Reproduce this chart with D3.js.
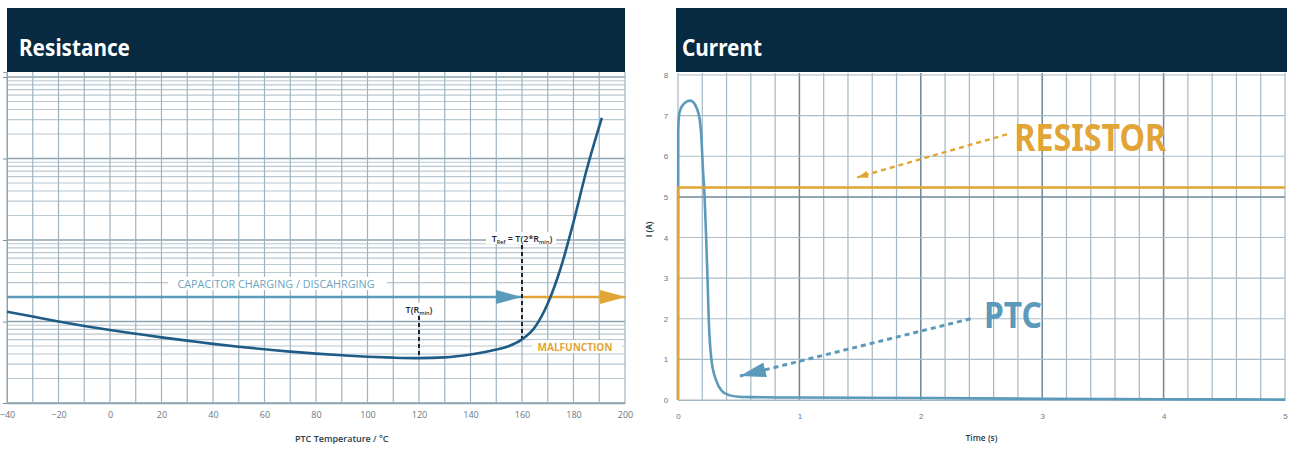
<!DOCTYPE html>
<html><head><meta charset="utf-8">
<script src="https://cdn.jsdelivr.net/npm/d3@7"></script>
<style>body{margin:0;background:#fff;} svg{display:block;font-family:"Open Sans",sans-serif;}</style>
</head><body><svg id="c" width="1292" height="450"></svg>
<script>
// ---------- data ----------
const tempTicks = [-40,-20,0,20,40,60,80,100,120,140,160,180,200];
const ptcTemp = [-40,-30,-20,-10,0,10,20,30,40,50,60,70,80,90,100,110,120,130,140,150,155,160,165,170,175,180,185,191];
const ptcResistance = [13.2,11.5,10,8.8,7.85,7.08,6.38,5.82,5.31,4.9,4.57,4.27,4.03,3.85,3.7,3.6,3.55,3.63,3.94,4.52,5.01,6.03,8.5,16.6,45,166,708,3160];
const timeTicks = [0,1,2,3,4,5];
const currentTicks = [0,1,2,3,4,5,6,7,8];
const ptcTime = [0,0.002,0.008,0.02,0.045,0.075,0.1,0.125,0.152,0.179,0.192,0.205,0.219,0.232,0.243,0.253,0.275,0.312,0.365,0.42,0.5,0.6,1,2,3,4,5];
const ptcCurrent = [0,6.6,7.0,7.15,7.28,7.35,7.37,7.33,7.2,6.9,6.5,5.7,5.0,4.0,3.0,2.0,1.0,0.5,0.21,0.12,0.08,0.07,0.06,0.05,0.03,0.02,0.01];
const resistorTime = [0,0,5];
const resistorCurrent = [0,5.23,5.23];
const tRmin = 120, tRef = 160, arrowR = 20;

// ---------- styles ----------
const NAVY = "#072a40", BLUE = "#5b9aba", DARKBLUE = "#1e5b86", ORANGE = "#e2a535";
const GRID = "#a9bcc8", GRIDDARK = "#6f8797";

const svg = d3.select("#c");
const defs = svg.append("defs");
function marker(id, color, w, h) {
  defs.append("marker").attr("id", id).attr("viewBox", `0 0 ${w} ${h}`)
    .attr("refX", w).attr("refY", h/2).attr("markerWidth", w).attr("markerHeight", h)
    .attr("markerUnits", "userSpaceOnUse").attr("orient", "auto")
    .append("path").attr("d", `M0,0L${w},${h/2}L0,${h}Z`).attr("fill", color);
}
marker("arBlue", BLUE, 26, 14);
marker("arOrange", ORANGE, 26, 14);
marker("arOrSmall", ORANGE, 11, 7);
marker("arBlueBig", BLUE, 26, 15);

// =============== LEFT: Resistance ===============
const L = {x0: 7, x1: 625, y0: 72, y1: 403};
const xT = d3.scaleLinear().domain([-40, 200]).range([L.x0, L.x1]);
const yR = d3.scaleLog().domain([1, Math.pow(10, (L.y1 - L.y0) / 81.5)]).range([L.y1, L.y0]);
const gL = svg.append("g");

const logLines = [];
for (let d = 0; d <= 4; d++) for (let k = 1; k <= 9; k++) {
  const v = k * Math.pow(10, d);
  if (v <= yR.domain()[1]) logLines.push({v, major: k === 1});
}
gL.append("g").selectAll("line").data(logLines).join("line")
  .attr("x1", L.x0).attr("x2", L.x1)
  .attr("y1", d => yR(d.v)).attr("y2", d => yR(d.v))
  .attr("stroke", d => d.major ? "#8ea3b1" : "#b9c8d1").attr("stroke-width", d => d.major ? 1.3 : 1.1);
gL.append("g").selectAll("line").data(d3.range(-40, 201, 10)).join("line")
  .attr("x1", d => xT(d)).attr("x2", d => xT(d)).attr("y1", L.y0).attr("y2", L.y1)
  .attr("stroke", "#9fb3c0").attr("stroke-width", 1.2);

const axL = gL.append("g").attr("transform", `translate(${L.x0},0)`)
  .call(d3.axisLeft(yR).tickValues([1,10,100,1000,10000]).tickSize(4).tickFormat(""));
axL.select(".domain").attr("stroke", "#8ea3b1");
axL.selectAll(".tick line").attr("stroke", "#7c909d");
const axB = gL.append("g").attr("transform", `translate(0,${L.y1})`)
  .call(d3.axisBottom(xT).tickValues(tempTicks).tickSize(0).tickPadding(9).tickFormat(d3.format("d")));
axB.select(".domain").attr("stroke", "#8ea3b1").attr("stroke-width", 1.3);
axB.selectAll("text").attr("font-size", 9).attr("fill", "#6a7680").attr("font-family", "Open Sans");
gL.append("text").attr("x", xT(90)).attr("y", 442).attr("text-anchor", "middle")
  .attr("font-size", 9).attr("font-weight", 600).attr("fill", "#2c3e4c").text("PTC Temperature / °C");

function label(g, x, y, opts) {
  const t = g.append("text").attr("x", x).attr("y", y).attr("text-anchor", opts.anchor || "middle")
    .attr("font-size", opts.size).attr("font-weight", opts.weight || 600).attr("fill", opts.color);
  if (opts.len) t.attr("textLength", opts.len).attr("lengthAdjust", "spacingAndGlyphs");
  return t;
}
gL.append("rect").attr("x", 168).attr("y", 277).attr("width", 219).attr("height", 13).attr("fill", "#fff");
label(gL, 276, 288, {size: 11, color: "#6aa3c0", weight: 500, len: 197}).text("CAPACITOR CHARGING / DISCAHRGING");
gL.append("rect").attr("x", 532).attr("y", 340).attr("width", 90).attr("height", 13).attr("fill", "#fff");
label(gL, 575, 351, {size: 11, color: ORANGE, weight: 700, len: 75}).text("MALFUNCTION");

gL.append("line").attr("x1", L.x0).attr("x2", xT(tRef)).attr("y1", yR(arrowR)).attr("y2", yR(arrowR))
  .attr("stroke", BLUE).attr("stroke-width", 2.5).attr("marker-end", "url(#arBlue)");
gL.append("line").attr("x1", xT(tRef)).attr("x2", L.x1 + 1).attr("y1", yR(arrowR)).attr("y2", yR(arrowR))
  .attr("stroke", ORANGE).attr("stroke-width", 2.5).attr("marker-end", "url(#arOrange)");

const rAt = t => ptcResistance[ptcTemp.indexOf(t)];
gL.append("line").attr("x1", xT(tRmin)).attr("x2", xT(tRmin)).attr("y1", 316).attr("y2", yR(rAt(tRmin)))
  .attr("stroke", "#1b2630").attr("stroke-width", 2).attr("stroke-dasharray", "4,3");
gL.append("line").attr("x1", xT(tRef)).attr("x2", xT(tRef)).attr("y1", 245).attr("y2", yR(rAt(tRef)))
  .attr("stroke", "#1b2630").attr("stroke-width", 2).attr("stroke-dasharray", "4,3");
gL.append("rect").attr("x", 486).attr("y", 232).attr("width", 70).attr("height", 12).attr("fill", "#fff");
const tref = gL.append("text").attr("x", xT(tRef)).attr("y", 242).attr("text-anchor", "middle")
  .attr("font-size", 9).attr("font-weight", 600).attr("fill", "#1b2630");
tref.append("tspan").text("T");
tref.append("tspan").attr("font-size", 5.5).attr("dy", 1.5).text("Ref");
tref.append("tspan").attr("dy", -1.5).text(" = T(2*R");
tref.append("tspan").attr("font-size", 5.5).attr("dy", 1.5).text("min");
tref.append("tspan").attr("dy", -1.5).text(")");
gL.append("rect").attr("x", 403).attr("y", 303).attr("width", 33).attr("height", 12).attr("fill", "#fff");
const trm = gL.append("text").attr("x", xT(tRmin)).attr("y", 313).attr("text-anchor", "middle")
  .attr("font-size", 9).attr("font-weight", 600).attr("fill", "#1b2630");
trm.append("tspan").text("T(R");
trm.append("tspan").attr("font-size", 5.5).attr("dy", 1.5).text("min");
trm.append("tspan").attr("dy", -1.5).text(")");

const rLine = d3.line().x(d => xT(d[0])).y(d => yR(d[1])).curve(d3.curveMonotoneX);
gL.append("path").datum(ptcTemp.map((t, i) => [t, ptcResistance[i]]))
  .attr("d", rLine).attr("fill", "none").attr("stroke", DARKBLUE).attr("stroke-width", 2.6);

gL.append("rect").attr("x", 7).attr("y", 8).attr("width", 618).attr("height", 64).attr("fill", NAVY);
gL.append("text").attr("x", 19).attr("y", 56).attr("font-family", "Noto Sans").attr("font-weight", 700)
  .attr("font-size", 23).attr("fill", "#fff").attr("textLength", 111).attr("lengthAdjust", "spacingAndGlyphs")
  .text("Resistance");

// =============== RIGHT: Current ===============
const R = {x0: 678, x1: 1285, y0: 75, y1: 400};
const xt = d3.scaleLinear().domain([0, 5]).range([R.x0, R.x1]);
const yI = d3.scaleLinear().domain([0, 8]).range([R.y1, R.y0]);
const gR = svg.append("g");

gR.append("g").selectAll("line").data(d3.range(0, 26).map(i => i / 5)).join("line")
  .attr("x1", d => xt(d)).attr("x2", d => xt(d)).attr("y1", R.y0 - 2).attr("y2", R.y1)
  .attr("stroke", d => (Number.isInteger(d) && d > 0 && d < 5) ? GRIDDARK : "#a4b7c3")
  .attr("stroke-width", d => (Number.isInteger(d) && d > 0 && d < 5) ? 1.5 : 1.2);
gR.append("g").selectAll("line").data(currentTicks).join("line")
  .attr("x1", R.x0).attr("x2", R.x1).attr("y1", d => yI(d)).attr("y2", d => yI(d))
  .attr("stroke", d => d === 5 ? GRIDDARK : GRID).attr("stroke-width", d => d === 5 ? 1.5 : 1.2);

const ayR = gR.append("g").attr("transform", `translate(${R.x0 - 12},0)`)
  .call(d3.axisLeft(yI).tickValues(currentTicks).tickSize(0).tickPadding(0).tickFormat(d3.format("d")));
ayR.select(".domain").remove();
ayR.selectAll("text").attr("font-size", 8).attr("fill", "#6a7680").attr("text-anchor", "middle");
const axR = gR.append("g").attr("transform", `translate(0,${R.y1})`)
  .call(d3.axisBottom(xt).tickValues(timeTicks).tickSize(0).tickPadding(13).tickFormat(d3.format("d")));
axR.select(".domain").attr("stroke", "#a4b7c3");
axR.selectAll("text").attr("font-size", 8).attr("fill", "#6a7680");
gR.append("text").attr("x", xt(2.5)).attr("y", 441).attr("text-anchor", "middle")
  .attr("font-size", 8.5).attr("font-weight", 600).attr("fill", "#2c3e4c").text("Time (s)");
gR.append("text").attr("transform", `translate(652,${yI(4.2)}) rotate(-90)`).attr("text-anchor", "middle")
  .attr("font-size", 8).attr("font-weight", 700).attr("fill", "#2c3e4c").text("I (A)");

const iLine = d3.line().x(d => xt(d[0])).y(d => yI(d[1]));
gR.append("path").datum(ptcTime.map((t, i) => [t, ptcCurrent[i]]))
  .attr("d", iLine.curve(d3.curveMonotoneX)).attr("fill", "none").attr("stroke", BLUE).attr("stroke-width", 2.6);
gR.append("path").datum(resistorTime.map((t, i) => [t, resistorCurrent[i]]))
  .attr("d", d3.line().x(d => xt(d[0])).y(d => yI(d[1]))).attr("fill", "none").attr("stroke", ORANGE).attr("stroke-width", 2.4);

gR.append("line").attr("x1", xt(2.71)).attr("y1", yI(6.54)).attr("x2", xt(1.476)).attr("y2", yI(5.48))
  .attr("stroke", ORANGE).attr("stroke-width", 2.4).attr("stroke-dasharray", "5,4").attr("marker-end", "url(#arOrSmall)");
gR.append("text").attr("x", xt(2.77)).attr("y", yI(6.12)).attr("font-family", "Noto Sans").attr("font-weight", 700)
  .attr("font-size", 37).attr("fill", ORANGE).attr("textLength", 152).attr("lengthAdjust", "spacingAndGlyphs").text("RESISTOR");
gR.append("line").attr("x1", xt(2.41)).attr("y1", yI(2.0)).attr("x2", xt(0.51)).attr("y2", yI(0.59))
  .attr("stroke", BLUE).attr("stroke-width", 3).attr("stroke-dasharray", "5,4").attr("marker-end", "url(#arBlueBig)");
gR.append("text").attr("x", xt(2.52)).attr("y", yI(1.78)).attr("font-family", "Noto Sans").attr("font-weight", 700)
  .attr("font-size", 36).attr("fill", BLUE).attr("textLength", 58).attr("lengthAdjust", "spacingAndGlyphs").text("PTC");

gR.append("rect").attr("x", 676).attr("y", 8).attr("width", 611).attr("height", 64).attr("fill", NAVY);
gR.append("text").attr("x", 682).attr("y", 56).attr("font-family", "Noto Sans").attr("font-weight", 700)
  .attr("font-size", 23).attr("fill", "#fff").attr("textLength", 80).attr("lengthAdjust", "spacingAndGlyphs")
  .text("Current");
</script></body></html>
